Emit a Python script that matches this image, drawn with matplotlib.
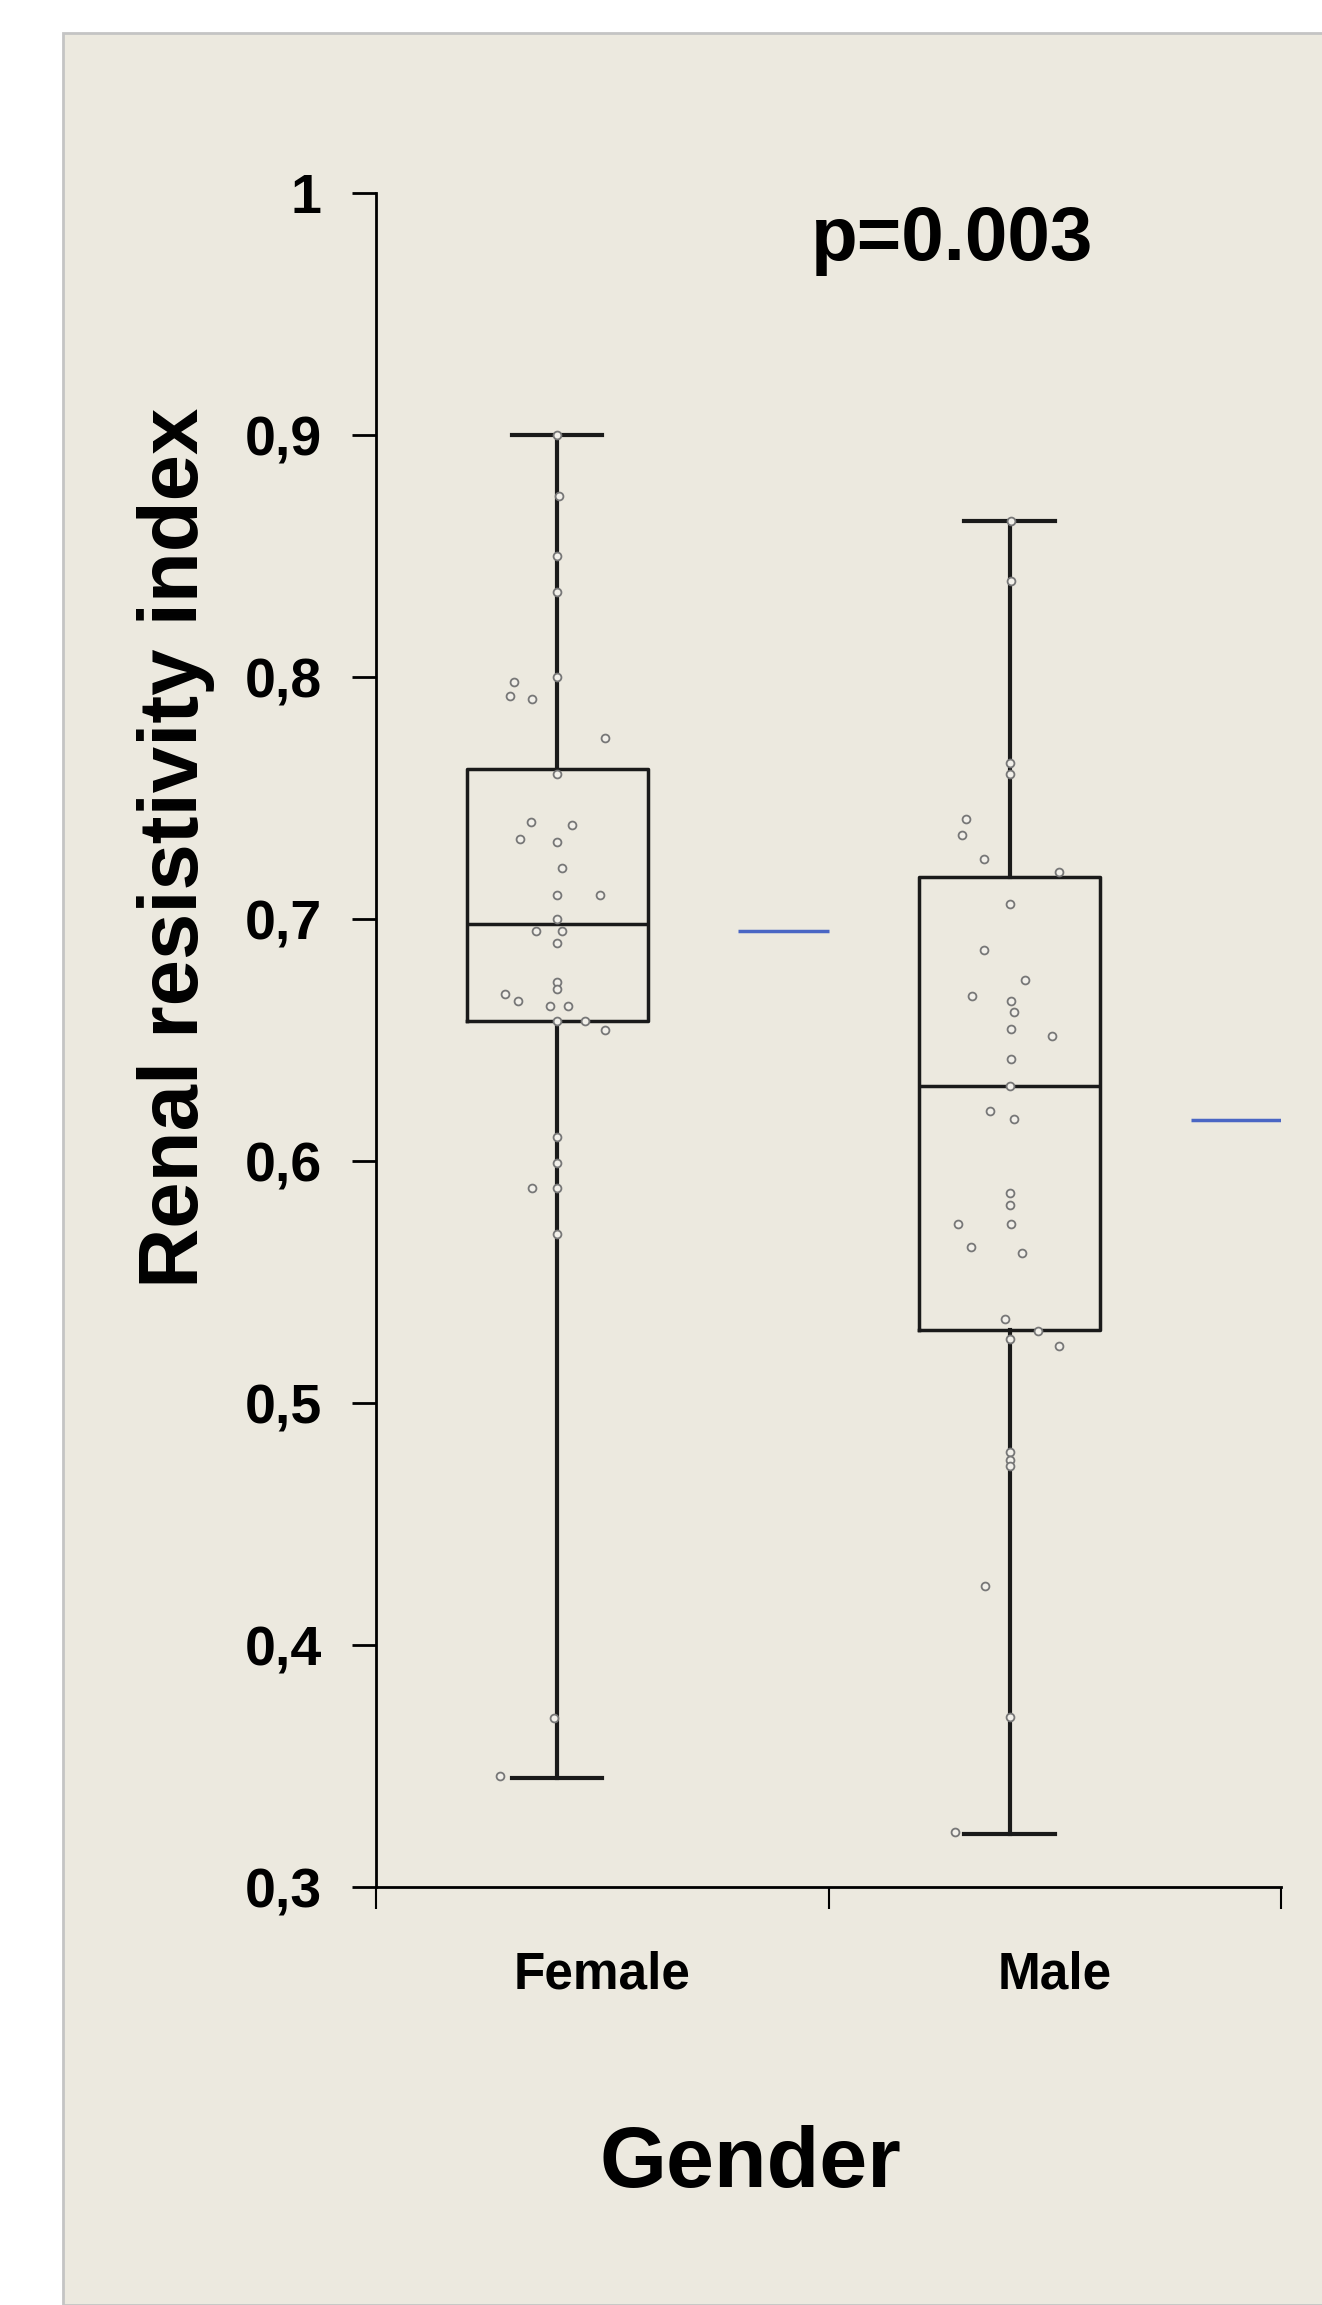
import numpy as np
import matplotlib
matplotlib.use("Agg")
from matplotlib import pyplot as plt
from matplotlib.patches import Rectangle

plt.rcParams['font.family'] = ['Liberation Sans', 'DejaVu Sans']
plt.rcParams['font.weight'] = 'bold'

##########
##Data ##
##########
groups = ["Female", "Male"]

# box stats
whis_hi = [0.900, 0.8645]
q3 = [0.762, 0.7175]
median = [0.698, 0.631]
q1 = [0.658, 0.530]
whis_lo = [0.345, 0.322]
means = [0.695, 0.617]

# individual points (value, horizontal jitter)
female_vals = [0.900, 0.875, 0.850, 0.835, 0.800, 0.798, 0.792, 0.791, 0.775, 0.760,
               0.740, 0.739, 0.733, 0.732, 0.721, 0.710, 0.710, 0.700, 0.695, 0.695,
               0.690, 0.674, 0.671, 0.669, 0.666, 0.664, 0.664, 0.658, 0.658, 0.654,
               0.610, 0.599, 0.589, 0.589, 0.570, 0.370, 0.346]
female_jit = [0, 0.004, 0, 0, 0, -0.095, -0.104, -0.055, 0.106, 0,
              -0.057, 0.034, -0.082, 0, 0.011, 0, 0.095, 0, -0.046, 0.011,
              0, 0, 0, -0.114, -0.087, -0.015, 0.024, 0, 0.061, 0.106,
              0, 0, -0.055, 0, 0, -0.007, -0.125]

male_vals = [0.8645, 0.8395, 0.7645, 0.760, 0.7415, 0.7347, 0.7249, 0.7194, 0.7061, 0.6873,
             0.6748, 0.668, 0.666, 0.6616, 0.6545, 0.6518, 0.6422, 0.631, 0.6205, 0.6174,
             0.5868, 0.5819, 0.574, 0.574, 0.5645, 0.5621, 0.5349, 0.5296, 0.5266, 0.5237,
             0.4797, 0.4764, 0.4738, 0.4245, 0.3703, 0.3226]
male_jit = [0.004, 0.004, 0.001, 0.001, -0.096, -0.104, -0.056, 0.109, 0.001, -0.056,
            0.034, -0.082, 0.004, 0.011, 0.004, 0.094, 0.004, 0.001, -0.044, 0.011,
            0, 0, -0.113, 0.004, -0.085, 0.027, -0.011, 0.063, 0, 0.109,
            0, 0, 0, -0.054, 0, -0.120]

yticks = [0.3, 0.4, 0.5, 0.6, 0.7, 0.8, 0.9, 1.0]
ytick_labels = ["0,3", "0,4", "0,5", "0,6", "0,7", "0,8", "0,9", "1"]

############
##Plotting##
############
W, H = 1322, 2305
fig = plt.figure(figsize=(W / 100, H / 100), dpi=100)
fig.patch.set_facecolor('white')
# beige panel
panel = Rectangle((63 / W, 0), 1, 1 - 33 / H, transform=fig.transFigure,
                  facecolor='#ECE9DF', edgecolor='#C4C4C4', linewidth=2)
panel.set_zorder(-10)
fig.add_artist(panel)

ax = fig.add_axes([376 / W, 1 - 1887 / H, (1281 - 376) / W, (1887 - 193) / H])
ax.set_facecolor('none')
ax.set_zorder(5)

box_pos = [0.4, 1.4]
stats = []
for i in range(2):
    stats.append(dict(med=median[i], q1=q1[i], q3=q3[i], whislo=whis_lo[i], whishi=whis_hi[i], fliers=[]))
ax.bxp(stats, positions=box_pos, widths=0.4, capwidths=0.2, showfliers=False,
       boxprops=dict(color='#1a1a1a', linewidth=2.5),
       medianprops=dict(color='#1a1a1a', linewidth=2.5),
       whiskerprops=dict(color='#1a1a1a', linewidth=3),
       capprops=dict(color='#1a1a1a', linewidth=3), manage_ticks=False)

ax.scatter(box_pos[0] + np.array(female_jit), female_vals, s=32, facecolor='#F2F0EA',
           edgecolor='#777777', linewidth=1.3, zorder=3)
ax.scatter(box_pos[1] + np.array(male_jit), male_vals, s=32, facecolor='#F2F0EA',
           edgecolor='#777777', linewidth=1.3, zorder=3)

# mean lines
ax.hlines(means[0], 0.8, 1.0, color='#4A66C4', linewidth=2.5)
ax.hlines(means[1], 1.8, 2.0, color='#4A66C4', linewidth=2.5)

ax.set_xlim(0, 2)
ax.set_ylim(0.3, 1.0)
ax.spines['top'].set_visible(False)
ax.spines['right'].set_visible(False)
ax.spines['left'].set_linewidth(2)
ax.spines['bottom'].set_linewidth(2)

ax.set_yticks(yticks)
ax.set_yticklabels(ytick_labels, fontsize=40, fontweight='bold')
ax.set_xticks([0, 1, 2])
ax.set_xticklabels([])
ax.set_xticks([0.5, 1.5], minor=True)
ax.set_xticklabels(groups, minor=True, fontsize=37, fontweight='bold')
ax.tick_params(axis='y', length=17, width=2, pad=22)
ax.tick_params(axis='x', which='major', length=16, width=1.5)
ax.tick_params(axis='x', which='minor', length=0, pad=46)

fig.text(176 / W, 1 - 848 / H, "Renal resistivity index", rotation=90, fontsize=60,
         fontweight='bold', ha='center', va='center')
fig.text(750 / W, 1 - 2165 / H, "Gender", fontsize=62, fontweight='bold', ha='center', va='center')
fig.text(952 / W, 1 - 240 / H, "p=0.003", fontsize=55, fontweight='bold', ha='center', va='center')

plt.savefig('out.png', dpi=100)
